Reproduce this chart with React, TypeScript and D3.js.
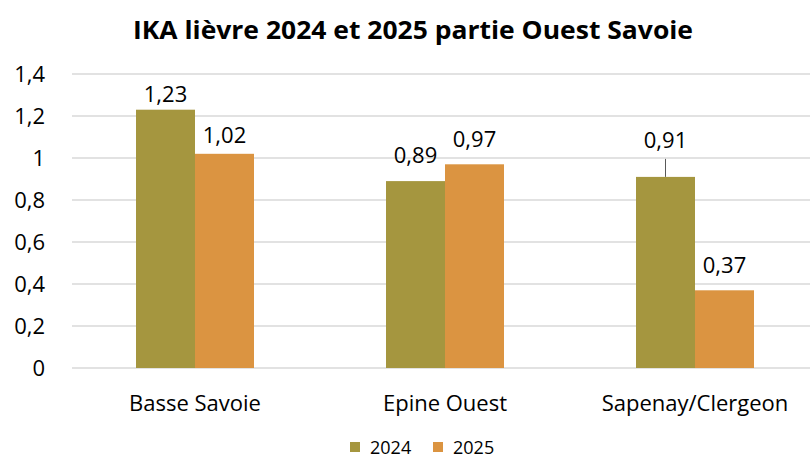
import React from 'react'
import * as d3 from 'd3'

const categories = ['Basse Savoie', 'Epine Ouest', 'Sapenay/Clergeon']
const seriesNames = ['2024', '2025']
const values2024 = [1.23, 0.89, 0.91]
const values2025 = [1.02, 0.97, 0.37]
const yTicks = [0, 0.2, 0.4, 0.6, 0.8, 1, 1.2, 1.4]

// label distance above the bar top (Excel moved some by hand)
const labelOffsets2024 = [8, 18, 29]
const labelOffsets2025 = [11, 17, 17]

const colors = ['#A5963F', '#DB9441']
const font = '"Open Sans", Lato, sans-serif'

const App = () => {
  const width = 810
  const height = 459

  const x0 = d3
    .scaleBand()
    .domain(categories)
    .range([70, 820])
    .paddingInner(0.528)
    .paddingOuter(0.264)
  const x1 = d3.scaleBand().domain(seriesNames).range([0, x0.bandwidth()])
  const y = d3.scaleLinear().domain([0, 1.4]).range([368, 74])
  const fmt = (v) => d3.format('.2~f')(v).replace('.', ',')

  const series = [
    {name: '2024', values: values2024, offsets: labelOffsets2024},
    {name: '2025', values: values2025, offsets: labelOffsets2025},
  ]

  return (
    <svg
      width={width}
      height={height}
      style={{position: 'absolute', left: 0, top: 0, background: '#fff'}}
      fontFamily={font}
    >
      <text x={413} y={39} textAnchor="middle" fontSize={25} fontWeight="bold" fill="#000"
        textLength={560} lengthAdjust="spacingAndGlyphs">
        IKA lièvre 2024 et 2025 partie Ouest Savoie
      </text>

      {yTicks.map((t) => (
        <g key={t}>
          <line x1={72} x2={810} y1={y(t)} y2={y(t)} stroke="#D9D9D9" strokeWidth={1.5} />
          <text x={45} y={y(t)} dy="0.36em" textAnchor="end" fontSize={22} fill="#000">
            {fmt(t)}
          </text>
        </g>
      ))}

      {series.map((s, si) =>
        categories.map((c, ci) => {
          const bx = x0(c) + x1(s.name)
          const top = y(s.values[ci])
          const cx = bx + x1.bandwidth() / 2
          const ly = top - s.offsets[ci]
          return (
            <g key={s.name + c}>
              <rect
                x={bx}
                y={top}
                width={x1.bandwidth()}
                height={y(0) - top}
                fill={colors[si]}
              />
              {s.offsets[ci] > 25 && (
                <line x1={cx} x2={cx} y1={ly + 11} y2={top} stroke="#595959" strokeWidth={1} />
              )}
              <text x={cx} y={ly} textAnchor="middle" fontSize={22} fill="#000">
                {fmt(s.values[ci])}
              </text>
            </g>
          )
        })
      )}

      {categories.map((c) => (
        <text
          key={c}
          x={x0(c) + x0.bandwidth() / 2}
          y={411}
          textAnchor="middle"
          fontSize={22}
          fill="#000"
        >
          {c}
        </text>
      ))}

      {seriesNames.map((n, i) => (
        <g key={n} transform={`translate(${350 + i * 83},0)`}>
          <rect x={0} y={442} width={10} height={10} fill={colors[i]} />
          <text x={20} y={454} fontSize={18} fill="#000">
            {n}
          </text>
        </g>
      ))}
    </svg>
  )
}

export default App
